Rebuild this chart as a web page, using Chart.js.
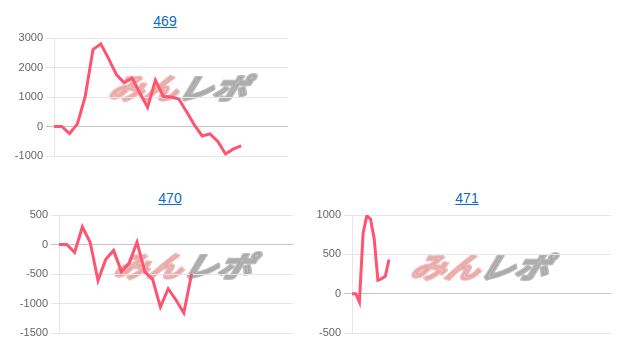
<!DOCTYPE html>
<html>
<head>
<meta charset="utf-8">
<script src="https://cdn.jsdelivr.net/npm/chart.js@4"></script>
<style>
  body { margin: 0; background: #fff; width: 634px; height: 361px; overflow: hidden; position: relative; font-family: "Liberation Sans", Arial, sans-serif; }
  .ttl { position: absolute; width: 100px; margin-left: -50px; text-align: center; font-size: 14px; line-height: 16px; }
  .ttl a { color: #0b6bcb; text-decoration: underline; }
  canvas { position: absolute; }
</style>
</head>
<body>
<div class="ttl" style="left:165px; top:13px;"><a href="#">469</a></div>
<div class="ttl" style="left:170px; top:190px;"><a href="#">470</a></div>
<div class="ttl" style="left:467px; top:190px;"><a href="#">471</a></div>
<canvas id="c469" width="300" height="138" style="left:0; top:28px;"></canvas>
<canvas id="c470" width="305" height="138" style="left:0; top:205px;"></canvas>
<canvas id="c471" width="313" height="138" style="left:310px; top:205px;"></canvas>
<script>
// machine 469 / 470 / 471 difference graphs
const slots469 = Array.from({ length: 31 }, (_, i) => String(i + 1));
const slots470 = Array.from({ length: 31 }, (_, i) => String(i + 1));
const slots471 = Array.from({ length: 71 }, (_, i) => String(i + 1));

const diff469 = [0, 0, -240, 90, 1020, 2610, 2800, 2300, 1760, 1480, 1650, 1140, 650, 1570, 1020, 1000, 930, 500, 50, -320, -250, -510, -930, -760, -660];
const diff470 = [0, 0, -135, 300, 35, -610, -250, -100, -460, -315, 40, -460, -590, -1060, -750, -940, -1160, -500];
const diff471 = [0, 0, -107, 770, 990, 950, 700, 170, 190, 220, 435];

const ticks469 = [-1000, 0, 1000, 2000, 3000];
const ticks470 = [-1500, -1000, -500, 0, 500];
const ticks471 = [-500, 0, 500, 1000];

const watermark = {
  id: "watermark",
  beforeDraw(chart, args, opts) {
    const ctx = chart.ctx;
    ctx.save();
    ctx.font = "italic bold 30px 'Noto Sans CJK JP'";
    ctx.textBaseline = "middle";
    ctx.lineJoin = "round";
    const a = "みん", b = "レポ";
    const wa = ctx.measureText(a).width, wb = ctx.measureText(b).width;
    const sx = 138 / (wa + wb);
    ctx.translate(opts.x - 70, opts.y);
    ctx.scale(sx, 0.95);
    ctx.transform(1, 0, -0.25, 1, 0, 0);
    ctx.lineWidth = 3;
    ctx.fillStyle = ctx.strokeStyle = "rgba(228, 150, 150, 0.6)";
    ctx.strokeText(a, 0, 0);
    ctx.fillText(a, 0, 0);
    ctx.fillStyle = ctx.strokeStyle = "rgba(160, 160, 160, 0.7)";
    ctx.strokeText(b, wa, 0);
    ctx.fillText(b, wa, 0);
    ctx.restore();
  }
};

function makeChart(id, labels, values, ticks, axisWidth, mark) {
  new Chart(document.getElementById(id), {
    type: "line",
    data: {
      labels: labels,
      datasets: [{
        data: values,
        borderColor: "rgb(255, 84, 112)",
        borderWidth: 3,
        pointRadius: 0,
        tension: 0,
        fill: false
      }]
    },
    options: {
      responsive: false,
      animation: false,
      layout: { padding: { top: 10, bottom: 10, right: 12, left: 0 } },
      plugins: { legend: { display: false }, tooltip: { enabled: false }, watermark: mark },
      scales: {
        x: { display: false },
        y: {
          min: ticks[0],
          max: ticks[ticks.length - 1],
          afterBuildTicks: (s) => { s.ticks = ticks.map(v => ({ value: v })); },
          afterFit: (s) => { s.width = axisWidth; },
          border: { color: "#e6e6e6" },
          grid: {
            color: (c) => (c.tick && c.tick.value === 0 ? "#c4c4c4" : "#e6e6e6"),
            tickLength: 8
          },
          ticks: {
            color: "#666",
            font: { size: 11, family: "'Liberation Sans', Arial" },
            padding: 3,
            callback: (v) => String(v)
          }
        }
      }
    },
    plugins: [watermark]
  });
}

makeChart("c469", slots469, diff469, ticks469, 54, { x: 180, y: 60 });
makeChart("c470", slots470, diff470, ticks470, 59, { x: 185, y: 61 });
makeChart("c471", slots471, diff471, ticks471, 42, { x: 172, y: 62 });
</script>
</body>
</html>
